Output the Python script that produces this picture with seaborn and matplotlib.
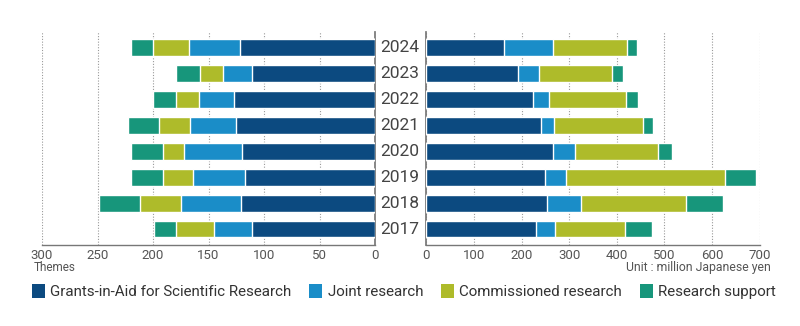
import matplotlib
matplotlib.use("Agg")
import matplotlib.pyplot as plt
import seaborn as sns
import pandas as pd
from matplotlib.patches import Patch
from matplotlib.transforms import blended_transform_factory

sns.set_theme(style="white")
plt.rcParams['font.family'] = ['Roboto', 'DejaVu Sans']

years = ["2024", "2023", "2022", "2021", "2020", "2019", "2018", "2017"]
categories = ["Grants-in-Aid for Scientific Research", "Joint research",
              "Commissioned research", "Research support"]

# Number of themes (left panel)
themes_grants = [122, 111, 127, 125, 120, 117, 121, 111]
themes_joint = [46, 26, 32, 42, 52, 47, 54, 34]
themes_commissioned = [32, 21, 20, 28, 19, 27, 37, 34]
themes_support = [20, 21, 21, 28, 29, 29, 37, 20]

# Amount in million yen (right panel)
yen_grants = [163, 192, 224, 240, 267, 249, 254, 231]
yen_joint = [102, 44, 33, 29, 46, 45, 70, 40]
yen_commissioned = [157, 153, 163, 187, 174, 334, 222, 146]
yen_support = [20, 25, 25, 21, 29, 65, 77, 57]

colors = ["#0c4a80", "#1a8dc8", "#aebb2a", "#17967b"]

left_ticks = [300, 250, 200, 150, 100, 50, 0]
right_ticks = [0, 100, 200, 300, 400, 500, 600, 700]


def stacked(ax, series):
    df = pd.DataFrame({"year": years})
    cum = [0] * len(years)
    cums = []
    for s in series:
        cum = [c + v for c, v in zip(cum, s)]
        cums.append(cum)
    for i in range(len(series) - 1, -1, -1):
        df["v"] = cums[i]
        sns.barplot(data=df, x="v", y="year", order=years, orient="h",
                    color=colors[i], saturation=1, width=0.65,
                    errorbar=None, ax=ax, zorder=3)


fig = plt.figure(figsize=(8, 3.26), dpi=100)
axL = fig.add_axes([0.0525, 0.248, 0.4165, 0.655])
axR = fig.add_axes([0.533, 0.248, 0.4165, 0.655])

stacked(axL, [themes_grants, themes_joint, themes_commissioned, themes_support])
stacked(axR, [yen_grants, yen_joint, yen_commissioned, yen_support])

gray = "#777777"
axL.set_xlim(300, 0)
axR.set_xlim(0, 700)
for ax, ticks in ((axL, left_ticks), (axR, right_ticks)):
    ax.set_ylim(7.62, -0.6)
    ax.set_xticks(ticks)
    ax.set_xticklabels([str(t) for t in ticks], fontsize=9.5, color="#555555")
    ax.set_yticks([])
    ax.set_xlabel("")
    ax.set_ylabel("")
    ax.tick_params(axis="x", length=4, color=gray, direction="in", pad=3)
    for t in ticks:
        ax.axvline(t, color="#999999", linestyle=(0, (1, 1.5)), linewidth=0.8, zorder=1)
    for sp in ax.spines.values():
        sp.set_visible(False)
    ax.spines["bottom"].set_visible(True)
    ax.spines["bottom"].set_color(gray)
    ax.spines["bottom"].set_linewidth(1)

axL.spines["right"].set_visible(True)
axL.spines["right"].set_color(gray)
axR.spines["left"].set_visible(True)
axR.spines["left"].set_color(gray)

tr = blended_transform_factory(fig.transFigure, axL.transData)
for i, y in enumerate(years):
    axL.text(0.5, i, y, transform=tr, ha="center", va="center",
             fontsize=12.5, color="#444444", clip_on=False)

fig.text(0.0425, 0.18, "Themes", ha="left", va="center", fontsize=8.5, color="#555555")
fig.text(0.963, 0.18, "Unit : million Japanese yen", ha="right", va="center",
         fontsize=8.8, color="#555555")

handles = [Patch(facecolor=c, edgecolor="none") for c in colors]
fig.legend(handles, categories, loc="center", bbox_to_anchor=(0.505, 0.105), ncol=4,
           frameon=False, fontsize=10.9, handlelength=0.85, handleheight=1.05,
           handletextpad=0.35, columnspacing=1.2, labelcolor="#333333")

fig.savefig("out.png", dpi=100)
